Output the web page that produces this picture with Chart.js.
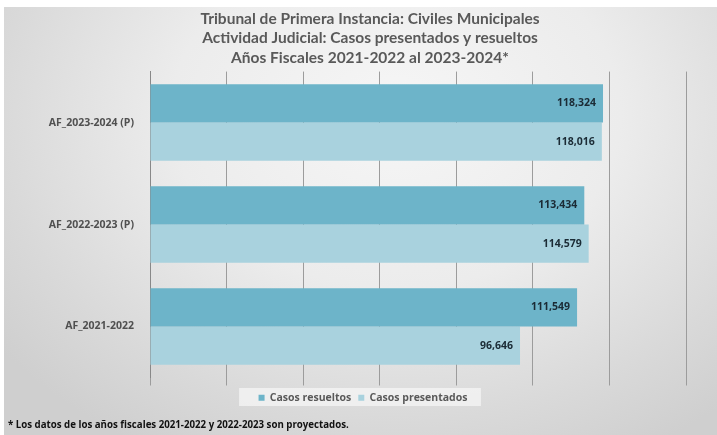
<!DOCTYPE html>
<html>
<head>
<meta charset="utf-8">
<script src="https://cdn.jsdelivr.net/npm/chart.js@4"></script>
<style>
  html, body { margin:0; padding:0; }
  body { width:717px; height:435px; background:#fff; overflow:hidden; position:relative; }
  #wrap {
    position:absolute; left:4px; top:7px; width:713px; height:428px;
    background: radial-gradient(ellipse 70% 90% at 55% 25%, #f6f6f6 0%, #ececec 45%, #d9d9d9 80%, #cfcfcf 100%);
  }
  #c { position:absolute; left:0; top:0; }
  #note {
    position:absolute; left:8px; top:418px;
    font: bold 9.7px "Open Sans", sans-serif; color:#111;
  }
</style>
</head>
<body>
<div id="wrap"></div>
<canvas id="c" width="717" height="435"></canvas>
<div id="note">* Los datos de los años fiscales 2021-2022 y 2022-2023 son proyectados.</div>
<script>
const categories = ['AF_2023-2024 (P)', 'AF_2022-2023 (P)', 'AF_2021-2022'];
const resueltos = [118324, 113434, 111549];
const presentados = [118016, 114579, 96646];
const titleLines = [
  'Tribunal de Primera Instancia: Civiles Municipales',
  'Actividad Judicial: Casos presentados y resueltos',
  'Años Fiscales 2021-2022 al 2023-2024*'
];

// value labels inside bar ends
const barLabels = {
  id: 'barLabels',
  afterDatasetsDraw(chart) {
    const ctx = chart.ctx;
    ctx.save();
    ctx.font = 'bold 10.5px "Open Sans", sans-serif';
    ctx.fillStyle = '#1b2b35';
    ctx.textAlign = 'right';
    ctx.textBaseline = 'middle';
    chart.data.datasets.forEach((ds, i) => {
      chart.getDatasetMeta(i).data.forEach((bar, j) => {
        ctx.fillText(ds.data[j].toLocaleString('en-US'), bar.x - 7, bar.y);
      });
    });
    ctx.restore();
  }
};

// title and legend in the original are centred a bit right of the canvas centre
const shiftBlocks = {
  id: 'shiftBlocks',
  beforeDraw(chart) {
    const t = chart.titleBlock, lg = chart.legend;
    if (t) { t.left = 54; t.right = 686; }
    if (!lg) return;
    lg.left = 40; lg.right = 686;
    try { lg.adjustHitBoxes(); } catch (e) {}
    // light box behind legend
    const w = lg.lineWidths ? lg.lineWidths[0] : 220;
    const cx = (lg.left + lg.right) / 2;
    const ctx = chart.ctx;
    ctx.save();
    ctx.fillStyle = 'rgba(246,246,246,0.75)';
    ctx.fillRect(cx - w / 2 - 16, 388, w + 26, 18);
    ctx.restore();
  }
};

new Chart(document.getElementById('c'), {
  type: 'bar',
  data: {
    labels: categories,
    datasets: [
      {label:'Casos resueltos', data: resueltos, backgroundColor:'#6db4c9'},
      {label:'Casos presentados', data: presentados, backgroundColor:'#a9d2de'}
    ]
  },
  options: {
    indexAxis: 'y',
    responsive: false,
    animation: false,
    categoryPercentage: 0.75,
    barPercentage: 1,
    layout: {padding: {left: 0, right: 31, top: 6, bottom: 22}},
    scales: {
      x: {
        min: 0, max: 140000,
        ticks: {display: false, stepSize: 20000},
        grid: {color: '#9c9c9c', lineWidth: 1, tickLength: 8, drawTicks: true},
        border: {display: false}
      },
      y: {
        ticks: {color:'#505050', font:{family:'"Open Sans", sans-serif', size:10.5, weight:'bold'}, padding: 8},
        grid: {display: false},
        border: {display: true, color:'#888'},
        afterFit(s) { s.width = 150; }
      }
    },
    plugins: {
      title: {
        display: true, text: titleLines, color:'#595959',
        font: {family:'Lato, "Open Sans", sans-serif', size: 15.5, weight:'bold', lineHeight: 1.26},
        padding: {top: 3, bottom: 4}
      },
      legend: {
        position: 'bottom',
        labels: {
          color:'#595959', boxWidth: 6, boxHeight: 6, padding: 7,
          font:{family:'"Open Sans", sans-serif', size: 10.5, weight:'bold'}
        }
      },
      tooltip: {enabled: false}
    }
  },
  plugins: [shiftBlocks, barLabels]
});
</script>
</body>
</html>
